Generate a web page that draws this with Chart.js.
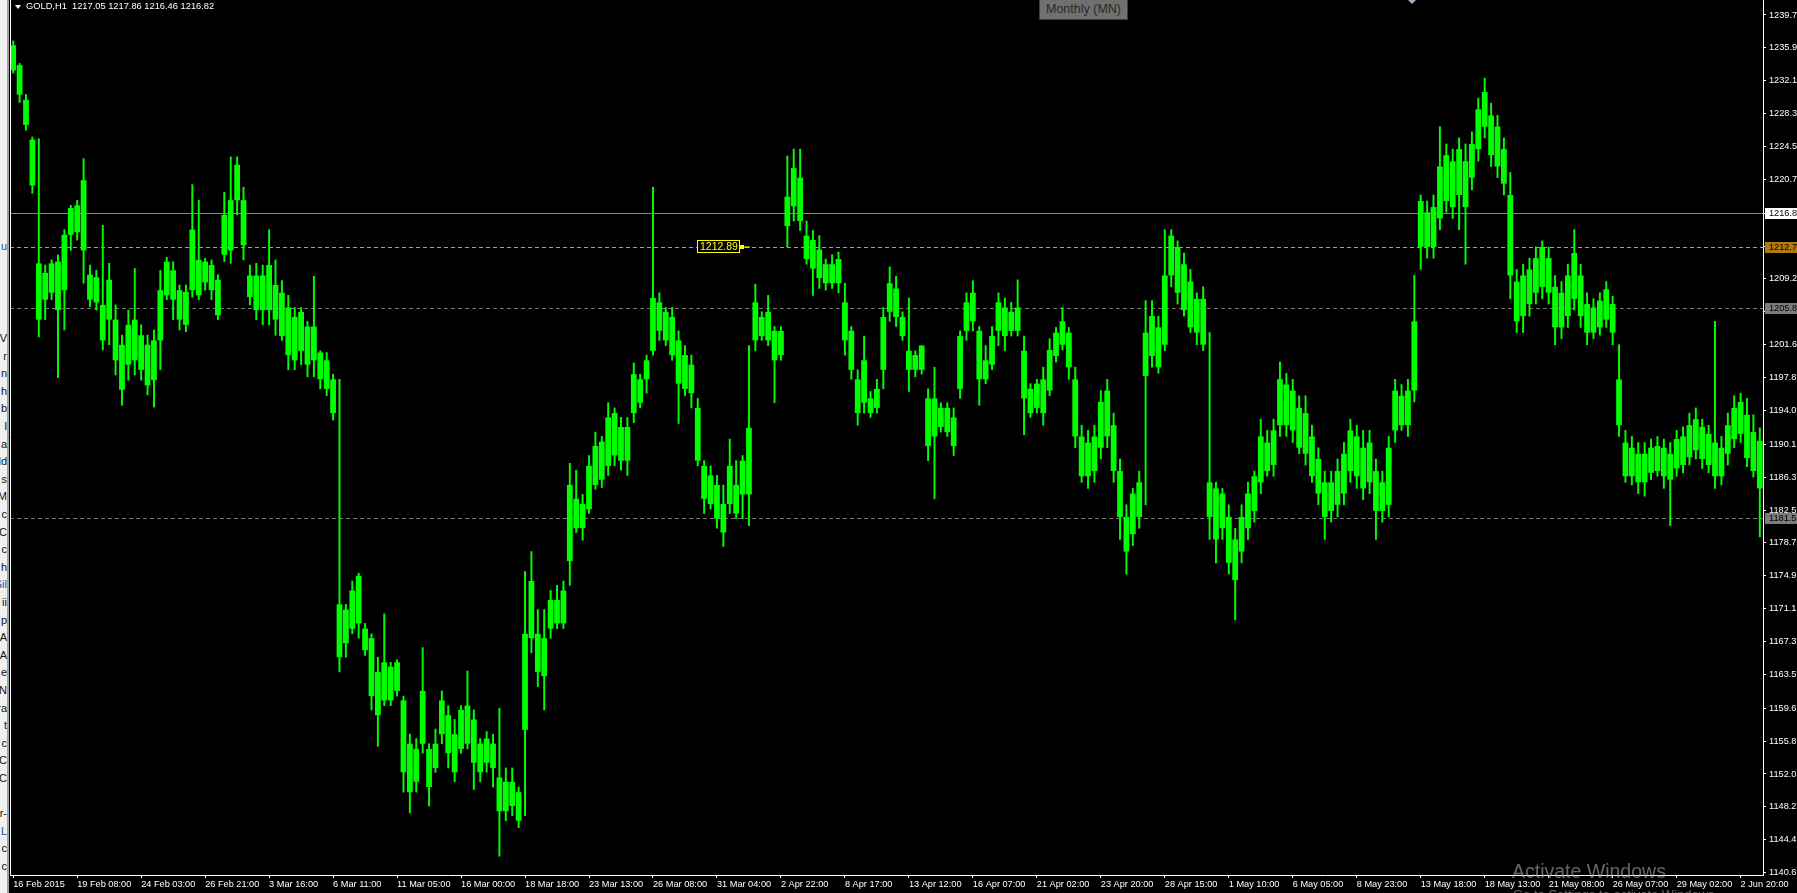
<!DOCTYPE html>
<html>
<head>
<meta charset="utf-8">
<title>GOLD,H1</title>
<script src="https://cdn.jsdelivr.net/npm/chart.js@4.4.1/dist/chart.umd.min.js"></script>
<style>
  html, body { margin: 0; padding: 0; background: #000; overflow: hidden; }
  #wrap { position: relative; width: 1797px; height: 893px; background: #000; }
  #chart { position: absolute; left: 0; top: 0; }
  .txt { position: absolute; white-space: nowrap; font-family: "Liberation Sans", Arial, sans-serif; }
  #tri { position: absolute; left: 15px; top: 5px; width: 0; height: 0;
         border-left: 3px solid transparent; border-right: 3px solid transparent; border-top: 4px solid #fff; }
  #title { left: 26px; top: 1px; font-size: 9.3px; color: #fff; }
  #period { left: 1039px; top: -1px; width: 87px; height: 19px; background: #707070; border: 1px solid #3c3c3c;
            color: #2a2a2a; font-size: 12.5px; line-height: 19px; text-align: center; }
  #mark { position: absolute; left: 1408px; top: 0; width: 0; height: 0;
          border-left: 4px solid transparent; border-right: 4px solid transparent; border-top: 4px solid #9fb0c8; }
  #nav { position: absolute; left: 0; top: 0; width: 7px; height: 893px; background: #f0f0f0; overflow: hidden; }
  #nav div { position: absolute; right: 0; font-family: "Liberation Sans", Arial, sans-serif; font-size: 11px; line-height: 12px; color: #111; }
  #navEdge { position: absolute; left: 7px; top: 0; width: 2px; height: 893px; background: #a0a0a0; }
  #wm1 { left: 1512px; top: 860px; font-size: 19.5px; color: rgba(170,170,170,0.6); }
  #wm2 { left: 1513px; top: 887px; font-size: 13px; color: rgba(170,170,170,0.6); }
</style>
</head>
<body>
<div id="wrap">
  <canvas id="chart" width="1797" height="893"></canvas>
  <div id="nav"></div>
  <div id="navEdge"></div>
  <div id="tri"></div>
  <div class="txt" id="title">GOLD,H1&nbsp; 1217.05 1217.86 1216.46 1216.82</div>
  <div class="txt" id="period">Monthly (MN)</div>
  <div id="mark"></div>
  <div class="txt" id="wm1">Activate Windows</div>
  <div class="txt" id="wm2">Go to Settings to activate Windows.</div>
</div>
<script>
// x axis labels, one every 10 samples
const dateLabels = ['16 Feb 2015', '19 Feb 08:00', '24 Feb 03:00', '26 Feb 21:00', '3 Mar 16:00', '6 Mar 11:00',
  '11 Mar 05:00', '16 Mar 00:00', '18 Mar 18:00', '23 Mar 13:00', '26 Mar 08:00', '31 Mar 04:00', '2 Apr 22:00',
  '8 Apr 17:00', '13 Apr 12:00', '16 Apr 07:00', '21 Apr 02:00', '23 Apr 20:00', '28 Apr 15:00', '1 May 10:00',
  '6 May 05:00', '8 May 23:00', '13 May 18:00', '18 May 13:00', '21 May 08:00', '26 May 07:00', '29 May 02:00',
  '2 Jun 20:00'];

// right axis tick labels
const priceTicks = ['1239.7', '1235.9', '1232.1', '1228.3', '1224.5', '1220.7', '1216.8', '1213.0', '1209.2',
  '1205.4', '1201.6', '1197.8', '1194.0', '1190.1', '1186.3', '1182.5', '1178.7', '1174.9', '1171.1', '1167.3',
  '1163.5', '1159.6', '1155.8', '1152.0', '1148.2', '1144.4', '1140.6'];

// extremes of each sample (thin lines)
const highs = [
  1236.7, 1234.1, 1230.5, 1225.6, 1225.4, 1210.8, 1211.4, 1212.0, 1214.9, 1217.7,
  1218.3, 1223.1, 1210.8, 1210.2, 1215.4, 1211.0, 1206.2, 1202.7, 1205.6, 1210.4,
  1203.9, 1202.7, 1203.3, 1210.2, 1211.7, 1211.2, 1208.5, 1208.5, 1220.1, 1218.3,
  1211.6, 1211.4, 1209.7, 1219.2, 1223.3, 1223.3, 1219.8, 1210.8, 1211.0, 1210.8,
  1214.9, 1211.4, 1209.0, 1207.3, 1205.9, 1205.9, 1204.3, 1209.5, 1200.9, 1200.7,
  1198.2, 1197.6, 1171.6, 1174.3, 1175.2, 1169.4, 1168.2, 1165.5, 1170.5, 1164.9,
  1165.2, 1161.0, 1156.6, 1156.1, 1166.6, 1155.5, 1157.2, 1161.6, 1159.9, 1158.3,
  1159.9, 1163.9, 1159.4, 1156.1, 1156.9, 1156.6, 1159.6, 1152.7, 1152.7, 1150.5,
  1175.4, 1177.7, 1171.0, 1171.0, 1173.2, 1173.8, 1174.3, 1187.9, 1187.1, 1184.3,
  1188.8, 1191.5, 1191.0, 1194.9, 1194.3, 1193.2, 1193.2, 1199.5, 1198.2, 1200.4,
  1219.8, 1207.6, 1205.9, 1205.9, 1203.2, 1201.5, 1200.4, 1195.4, 1188.2, 1187.6,
  1186.5, 1185.4, 1190.7, 1188.2, 1188.8, 1201.5, 1208.6, 1205.4, 1207.3, 1203.7,
  1203.7, 1223.4, 1224.2, 1224.2, 1215.9, 1214.8, 1214.2, 1211.5, 1212.0, 1212.3,
  1208.7, 1203.7, 1198.7, 1202.6, 1196.2, 1197.6, 1205.9, 1210.6, 1209.5, 1205.4,
  1207.0, 1200.9, 1201.5, 1196.5, 1199.0, 1194.9, 1194.9, 1194.3, 1203.2, 1207.6,
  1209.0, 1203.7, 1201.5, 1203.7, 1207.6, 1207.0, 1206.5, 1209.1, 1202.6, 1197.1,
  1197.6, 1199.0, 1202.3, 1203.6, 1205.9, 1203.6, 1199.0, 1192.3, 1191.7, 1192.3,
  1196.3, 1197.6, 1193.7, 1188.4, 1183.1, 1185.0, 1187.0, 1206.7, 1206.7, 1204.9,
  1214.9, 1214.9, 1213.6, 1212.2, 1210.3, 1207.6, 1208.3, 1203.0, 1185.7, 1185.0,
  1183.1, 1180.4, 1183.1, 1185.7, 1187.0, 1193.0, 1191.7, 1193.0, 1199.6, 1198.3,
  1197.6, 1195.7, 1195.7, 1192.3, 1189.7, 1187.0, 1187.0, 1188.4, 1190.3, 1193.0,
  1192.3, 1191.7, 1191.7, 1188.4, 1187.0, 1191.0, 1197.6, 1197.0, 1197.6, 1209.6,
  1218.9, 1218.2, 1218.9, 1226.8, 1224.8, 1224.2, 1225.5, 1224.8, 1226.2, 1230.1,
  1232.4, 1229.5, 1228.1, 1225.5, 1221.5, 1210.3, 1210.9, 1211.6, 1212.9, 1213.6,
  1212.9, 1209.6, 1208.9, 1210.9, 1214.9, 1210.9, 1207.6, 1206.9, 1207.6, 1208.9,
  1207.2, 1201.6, 1191.7, 1191.0, 1190.3, 1190.3, 1190.7, 1191.0, 1190.7, 1190.3,
  1191.7, 1192.1, 1193.7, 1194.3, 1193.0, 1192.3, 1204.3, 1191.0, 1193.7, 1195.7,
  1196.0, 1195.4, 1193.5, 1192.0
];
const lows = [
  1233.0, 1229.6, 1226.4, 1219.1, 1202.5, 1204.5, 1206.8, 1197.8, 1203.3, 1212.5,
  1213.7, 1208.7, 1206.0, 1205.6, 1201.0, 1201.6, 1198.1, 1194.6, 1197.5, 1198.1,
  1197.5, 1195.8, 1194.4, 1198.7, 1206.8, 1204.5, 1203.3, 1203.1, 1207.1, 1206.8,
  1207.9, 1206.8, 1204.5, 1211.2, 1211.0, 1216.6, 1211.4, 1206.2, 1204.5, 1203.9,
  1203.9, 1202.7, 1202.1, 1198.7, 1198.7, 1199.3, 1197.9, 1197.9, 1196.5, 1195.7,
  1192.9, 1163.8, 1165.5, 1168.2, 1167.7, 1165.7, 1159.4, 1155.2, 1159.9, 1159.9,
  1161.0, 1149.9, 1147.5, 1149.9, 1154.4, 1148.3, 1152.2, 1155.5, 1152.7, 1151.1,
  1154.4, 1154.9, 1150.2, 1151.1, 1152.2, 1150.5, 1142.5, 1146.6, 1147.2, 1145.8,
  1147.2, 1166.0, 1162.1, 1159.4, 1167.7, 1168.8, 1168.8, 1173.8, 1179.9, 1179.0,
  1182.1, 1184.9, 1185.1, 1186.5, 1187.6, 1187.1, 1186.5, 1192.6, 1194.3, 1196.0,
  1200.4, 1202.1, 1201.5, 1199.8, 1192.5, 1195.7, 1194.3, 1187.6, 1182.1, 1182.6,
  1180.4, 1178.3, 1182.1, 1181.5, 1181.5, 1180.7, 1200.9, 1202.1, 1201.5, 1194.9,
  1199.8, 1212.9, 1215.9, 1214.8, 1210.9, 1207.3, 1208.1, 1207.9, 1208.1, 1207.6,
  1200.4, 1197.6, 1192.3, 1193.7, 1193.2, 1193.7, 1196.5, 1204.3, 1203.7, 1202.1,
  1196.2, 1197.9, 1198.2, 1188.2, 1183.8, 1191.5, 1191.0, 1188.8, 1195.4, 1202.1,
  1203.2, 1194.6, 1197.1, 1198.7, 1201.5, 1200.9, 1202.6, 1202.6, 1191.2, 1193.2,
  1193.7, 1192.3, 1195.7, 1199.6, 1201.0, 1197.6, 1189.7, 1185.7, 1185.0, 1185.7,
  1188.4, 1189.7, 1185.7, 1179.1, 1175.1, 1178.4, 1180.4, 1183.1, 1199.0, 1198.3,
  1200.9, 1208.3, 1206.3, 1204.9, 1203.0, 1201.6, 1200.9, 1179.1, 1176.4, 1179.1,
  1175.1, 1169.8, 1176.4, 1179.1, 1181.1, 1184.4, 1186.4, 1186.4, 1191.0, 1191.0,
  1190.3, 1189.0, 1187.7, 1185.7, 1183.1, 1179.1, 1181.1, 1181.7, 1183.1, 1185.7,
  1185.0, 1183.7, 1184.4, 1179.1, 1181.1, 1181.7, 1190.3, 1191.7, 1191.0, 1195.0,
  1210.3, 1211.6, 1211.6, 1214.9, 1216.9, 1216.2, 1214.9, 1210.9, 1219.5, 1222.8,
  1225.5, 1222.2, 1220.9, 1218.9, 1206.9, 1203.0, 1203.0, 1204.9, 1206.3, 1206.9,
  1206.3, 1201.6, 1202.3, 1203.6, 1205.6, 1203.6, 1201.6, 1202.3, 1202.7, 1203.6,
  1201.6, 1191.0, 1185.7, 1185.4, 1184.4, 1184.1, 1186.0, 1186.4, 1185.0, 1180.7,
  1186.4, 1186.8, 1187.7, 1188.4, 1187.3, 1186.8, 1185.0, 1185.4, 1187.7, 1189.7,
  1190.3, 1187.5, 1186.3, 1179.4
];
// dense part of each sample
const bodyHighs = [
  1236.2, 1233.9, 1229.9, 1225.3, 1211.0, 1209.9, 1211.0, 1211.2, 1214.3, 1217.4,
  1217.7, 1220.6, 1209.7, 1209.4, 1206.2, 1209.1, 1204.5, 1201.6, 1203.9, 1204.5,
  1202.7, 1201.6, 1202.1, 1207.9, 1211.2, 1210.2, 1207.9, 1207.7, 1214.9, 1211.4,
  1211.2, 1210.8, 1209.1, 1216.6, 1218.3, 1222.4, 1218.3, 1209.6, 1209.6, 1209.6,
  1210.8, 1208.5, 1207.6, 1205.9, 1204.8, 1205.4, 1203.7, 1203.7, 1200.7, 1199.8,
  1197.6, 1171.6, 1171.0, 1173.2, 1174.9, 1168.8, 1167.7, 1163.8, 1164.9, 1164.4,
  1164.9, 1160.5, 1155.5, 1154.9, 1161.6, 1154.9, 1155.5, 1160.5, 1158.8, 1156.6,
  1159.4, 1159.9, 1158.3, 1155.5, 1156.1, 1155.5, 1151.6, 1151.1, 1151.1, 1149.9,
  1168.2, 1174.3, 1168.2, 1167.7, 1172.1, 1172.1, 1173.2, 1185.4, 1183.8, 1183.2,
  1187.6, 1189.9, 1190.4, 1193.2, 1193.7, 1192.1, 1192.1, 1198.2, 1197.6, 1199.8,
  1207.0, 1206.5, 1205.4, 1204.8, 1202.1, 1200.4, 1199.3, 1194.3, 1187.6, 1186.5,
  1185.4, 1183.2, 1187.6, 1185.4, 1188.2, 1192.0, 1206.5, 1204.8, 1205.4, 1203.2,
  1203.2, 1218.7, 1222.0, 1220.9, 1214.2, 1213.7, 1212.6, 1210.9, 1210.9, 1211.5,
  1206.5, 1203.2, 1197.6, 1199.8, 1195.4, 1196.5, 1204.8, 1208.7, 1208.1, 1204.8,
  1200.9, 1200.4, 1201.5, 1195.4, 1195.4, 1194.3, 1194.3, 1193.2, 1202.6, 1206.5,
  1207.6, 1203.2, 1199.8, 1202.6, 1206.5, 1205.9, 1205.4, 1205.9, 1200.9, 1196.5,
  1197.1, 1197.6, 1201.0, 1203.0, 1204.3, 1203.0, 1197.6, 1191.0, 1190.3, 1191.0,
  1195.0, 1196.3, 1192.3, 1187.0, 1181.7, 1184.4, 1185.7, 1203.0, 1204.9, 1203.6,
  1209.6, 1214.2, 1212.9, 1210.9, 1208.9, 1206.9, 1206.9, 1185.7, 1185.0, 1184.4,
  1181.7, 1179.1, 1181.7, 1184.4, 1186.4, 1191.0, 1190.3, 1191.7, 1197.6, 1197.0,
  1196.3, 1194.3, 1193.7, 1191.0, 1188.4, 1185.7, 1185.7, 1187.0, 1189.0, 1191.7,
  1191.0, 1189.7, 1190.3, 1187.0, 1185.7, 1189.7, 1196.3, 1195.7, 1196.3, 1204.3,
  1218.2, 1216.9, 1217.5, 1222.2, 1223.5, 1222.8, 1224.2, 1222.8, 1224.8, 1228.8,
  1230.8, 1228.1, 1226.8, 1224.2, 1218.9, 1208.9, 1209.6, 1210.3, 1211.6, 1212.9,
  1211.6, 1208.3, 1207.6, 1209.6, 1212.2, 1209.6, 1206.3, 1205.9, 1206.7, 1208.0,
  1206.3, 1197.6, 1190.3, 1189.7, 1189.0, 1189.0, 1189.7, 1189.9, 1189.7, 1189.0,
  1190.7, 1191.0, 1192.3, 1193.0, 1192.1, 1191.3, 1190.3, 1189.7, 1192.3, 1194.3,
  1195.0, 1193.5, 1191.5, 1190.5
];
const bodyLows = [
  1233.3, 1230.5, 1227.0, 1220.0, 1204.5, 1206.8, 1207.6, 1205.6, 1207.9, 1214.3,
  1214.6, 1212.5, 1206.8, 1206.5, 1202.1, 1204.5, 1199.8, 1196.4, 1199.3, 1199.8,
  1198.7, 1196.9, 1197.5, 1202.1, 1207.3, 1206.8, 1204.5, 1203.9, 1207.9, 1207.3,
  1208.8, 1207.9, 1205.0, 1212.0, 1212.5, 1218.3, 1213.1, 1207.1, 1205.6, 1205.6,
  1205.6, 1204.5, 1202.6, 1200.4, 1199.8, 1200.9, 1199.3, 1199.8, 1197.6, 1196.5,
  1193.7, 1165.5, 1167.1, 1168.8, 1169.4, 1166.3, 1161.0, 1158.8, 1160.5, 1160.5,
  1161.6, 1152.2, 1149.9, 1151.1, 1155.5, 1150.5, 1152.7, 1156.6, 1154.4, 1152.2,
  1154.9, 1155.5, 1153.3, 1152.2, 1153.3, 1152.7, 1147.7, 1147.7, 1148.3, 1146.6,
  1157.1, 1167.7, 1163.8, 1163.3, 1168.8, 1169.4, 1169.4, 1176.6, 1180.4, 1180.4,
  1182.6, 1185.4, 1186.0, 1187.6, 1188.8, 1188.2, 1188.2, 1193.7, 1194.9, 1197.6,
  1200.9, 1203.2, 1202.1, 1200.4, 1197.1, 1196.5, 1196.0, 1188.2, 1183.8, 1183.2,
  1181.5, 1179.9, 1183.2, 1182.1, 1184.3, 1184.3, 1202.1, 1202.6, 1202.1, 1199.8,
  1200.4, 1215.3, 1217.6, 1215.9, 1211.5, 1210.4, 1209.3, 1208.7, 1208.7, 1208.7,
  1202.1, 1198.7, 1193.7, 1194.9, 1193.7, 1194.3, 1198.7, 1205.4, 1204.8, 1202.6,
  1198.7, 1198.7, 1198.7, 1189.9, 1191.0, 1192.1, 1191.5, 1189.9, 1196.5, 1203.2,
  1204.3, 1197.6, 1197.6, 1199.3, 1203.2, 1202.6, 1203.2, 1203.2, 1195.4, 1193.7,
  1194.3, 1193.7, 1196.3, 1200.3, 1201.6, 1199.0, 1191.0, 1186.4, 1186.4, 1187.0,
  1189.7, 1191.0, 1187.0, 1181.7, 1177.7, 1179.7, 1181.7, 1198.0, 1200.3, 1199.0,
  1201.6, 1209.6, 1207.6, 1205.6, 1203.6, 1203.0, 1201.6, 1181.7, 1179.1, 1180.4,
  1176.4, 1174.4, 1177.7, 1180.4, 1182.4, 1185.7, 1187.0, 1187.7, 1192.3, 1192.3,
  1191.7, 1189.7, 1189.0, 1186.4, 1184.4, 1181.7, 1182.4, 1183.1, 1184.4, 1187.0,
  1186.4, 1185.0, 1185.7, 1182.4, 1182.4, 1183.1, 1191.7, 1192.3, 1192.3, 1196.3,
  1212.9, 1212.9, 1212.9, 1216.2, 1218.2, 1217.5, 1218.9, 1217.5, 1220.9, 1224.2,
  1226.8, 1223.5, 1222.2, 1220.2, 1209.6, 1204.3, 1204.9, 1206.3, 1207.6, 1208.3,
  1207.6, 1203.6, 1203.6, 1204.9, 1206.9, 1204.9, 1203.0, 1203.0, 1203.6, 1204.5,
  1203.0, 1192.3, 1186.4, 1186.4, 1185.7, 1185.7, 1186.8, 1187.0, 1186.4, 1186.0,
  1187.3, 1187.7, 1188.6, 1189.4, 1188.4, 1187.7, 1186.4, 1186.4, 1189.0, 1190.7,
  1191.3, 1188.5, 1187.0, 1185.0
];

// horizontal price lines and the text in their right-side boxes
const priceLines = [1216.85, 1212.89, 1205.9, 1181.6];
const priceLineLabels = ['1216.8', '1212.7', '1205.8', '1181.5'];
const askLabel = '1212.89';

// clipped letters of the panel on the left edge
const navTop = ['u'];
const navLines = ['V', 'r', 'n', 'h', 'b', 'l', 'a', 'ld', 's', 'M', 'c', 'C', 'c', 'h', 'Sil', 'ii', 'p', 'A', 'A',
  'e', 'N', 'ra', 't', 'c', 'C', 'C', '', 'r-', 'L', 'c', 'c'];

const nav = document.getElementById('nav');
navTop.forEach(t => {
  const d = document.createElement('div');
  d.textContent = t; d.style.top = '240px'; d.style.color = '#1a4fa0';
  nav.appendChild(d);
});
navLines.forEach((t, i) => {
  const d = document.createElement('div');
  d.textContent = t;
  d.style.top = (332 + i * 17.6) + 'px';
  if (t === 'Sil' || t === 'L') d.style.color = '#1a4fa0';
  nav.appendChild(d);
});

const axisFont = { family: 'Liberation Sans', size: 9.2 };
const categories = highs.map((_, i) => i);

const levelsPlugin = {
  id: 'levels',
  beforeDatasetsDraw(chart) {
    const { ctx, chartArea: a, scales: { y } } = chart;
    const styles = [
      { c: '#778899', d: [] },
      { c: '#d4a020', d: [4, 3] },
      { c: '#767676', d: [4, 3] },
      { c: '#767676', d: [4, 3] }
    ];
    ctx.save();
    ctx.lineWidth = 1;
    priceLines.forEach((p, k) => {
      const py = Math.round(y.getPixelForValue(p)) + 0.5;
      ctx.strokeStyle = styles[k].c;
      ctx.setLineDash(styles[k].d);
      ctx.beginPath();
      ctx.moveTo(a.left, py);
      ctx.lineTo(a.right, py);
      ctx.stroke();
    });
    ctx.restore();
  },
  afterDraw(chart) {
    const { ctx, chartArea: a, scales: { y } } = chart;
    ctx.save();
    // left border
    ctx.strokeStyle = '#fff';
    ctx.lineWidth = 1;
    ctx.beginPath();
    ctx.moveTo(a.left + 0.5, 0);
    ctx.lineTo(a.left + 0.5, a.bottom);
    ctx.stroke();

    // price boxes on the right axis
    const boxBg = ['#ffffff', '#b07a10', '#7c7c7c', '#7c7c7c'];
    ctx.font = '9.2px "Liberation Sans"';
    ctx.textBaseline = 'middle';
    priceLines.forEach((p, k) => {
      const py = Math.round(y.getPixelForValue(p));
      ctx.fillStyle = boxBg[k];
      ctx.fillRect(a.right + 2, py - 5, chart.width - a.right - 2, 11);
      ctx.fillStyle = '#000';
      ctx.fillText(priceLineLabels[k], a.right + 6, py + 0.5);
    });

    // ask price label on the chart
    const ay = Math.round(y.getPixelForValue(priceLines[1]));
    ctx.fillStyle = '#000';
    ctx.fillRect(697, ay - 7, 42, 13);
    ctx.strokeStyle = '#ffff00';
    ctx.strokeRect(697.5, ay - 6.5, 42, 12);
    ctx.fillStyle = '#ffff00';
    ctx.font = '10.5px "Liberation Sans"';
    ctx.fillText(askLabel, 700, ay);
    ctx.fillRect(740, ay - 2, 4, 4);
    ctx.fillRect(744, ay - 0.5, 6, 1);
    ctx.restore();
  }
};

new Chart(document.getElementById('chart'), {
  type: 'bar',
  data: {
    labels: categories,
    datasets: [
      {
        data: categories.map(i => [lows[i], highs[i]]),
        backgroundColor: '#00ff00',
        barThickness: 1.3,
        grouped: false,
        order: 1
      },
      {
        data: categories.map(i => [bodyLows[i], bodyHighs[i]]),
        backgroundColor: '#00ff00',
        barPercentage: 0.9,
        categoryPercentage: 1,
        grouped: false,
        order: 2
      }
    ]
  },
  options: {
    responsive: false,
    animation: false,
    devicePixelRatio: 1,
    events: [],
    layout: { padding: { left: 10, top: 0, right: 0, bottom: 0 } },
    plugins: { legend: { display: false }, tooltip: { enabled: false } },
    scales: {
      x: {
        type: 'category',
        offset: true,
        grid: { display: true, drawOnChartArea: false, offset: false, color: '#fff', tickLength: 3 },
        border: { display: true, color: '#fff' },
        afterBuildTicks: s => { s.ticks = s.ticks.filter(t => t.value % 10 === 0); },
        afterFit: s => { s.height = 18; s.paddingLeft = 0; s.paddingRight = 0; },
        ticks: {
          autoSkip: false, maxRotation: 0, minRotation: 0, align: 'start',
          color: '#fff', font: axisFont, padding: 1,
          callback: v => dateLabels[v / 10]
        }
      },
      y: {
        type: 'linear',
        position: 'right',
        min: 1140.33,
        max: 1241.43,
        afterBuildTicks: s => { s.ticks = priceTicks.map(t => ({ value: parseFloat(t) })); },
        afterFit: s => { s.width = 34; s.paddingTop = 0; s.paddingBottom = 0; },
        grid: { display: true, drawOnChartArea: false, color: '#fff', tickLength: 3 },
        border: { display: true, color: '#fff' },
        ticks: { color: '#fff', font: axisFont, padding: 3, callback: (v, i) => priceTicks[i] }
      }
    }
  },
  plugins: [levelsPlugin]
});
</script>
</body>
</html>
